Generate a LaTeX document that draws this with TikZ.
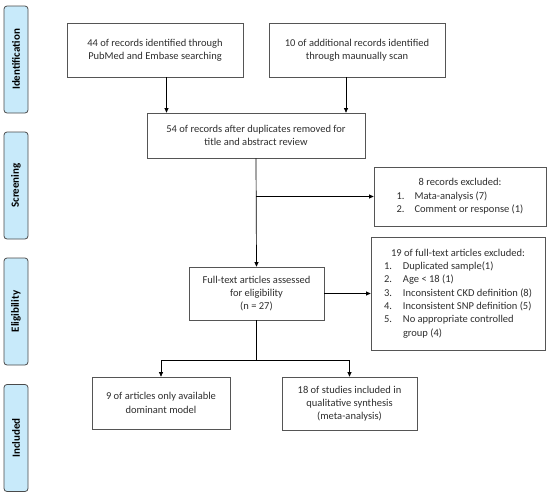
\documentclass[tikz,border=0pt]{standalone}
\usepackage{fontspec}
\setmainfont{Carlito}
\usetikzlibrary{arrows.meta}
\definecolor{sidefill}{HTML}{C8EAFA}
\definecolor{sideline}{HTML}{4A4A4A}
\definecolor{boxline}{HTML}{555555}
\definecolor{txt}{HTML}{2E2E2E}
\tikzset{
  stagebox/.style={draw=sideline, fill=sidefill, rounded corners=3pt, line width=0.8pt,
    minimum width=107pt, minimum height=24pt, rotate=90, inner sep=0pt,
    font=\fontsize{11}{12}\selectfont\bfseries, text=black},
  flowbox/.style={draw=boxline, line width=0.7pt, align=center, inner sep=2pt,
    font=\fontsize{10.5}{13.3}\selectfont, text=txt},
  arr/.style={draw=black, line width=0.7pt, -{Triangle[length=4.5pt,width=4pt]}},
  ln/.style={draw=black, line width=0.7pt}
}
\begin{document}
\begin{tikzpicture}[x=1pt,y=-1pt]
\useasboundingbox (0,0) rectangle (550,496);
% stage labels
\node[stagebox] (s1) at (16,59.5) {Identification};
\node[stagebox] (s2) at (16,185.5) {Screening};
\node[stagebox] (s3) at (16,311.5) {Eligibility};
\node[stagebox] (s4) at (16,438) {Included};
% boxes
\node[flowbox, minimum width=176pt, minimum height=54pt] (b1) at (155,50)
  {44 of records identified through\\PubMed and Embase searching};
\node[flowbox, minimum width=176pt, minimum height=54pt] (b2) at (357,50)
  {10 of additional records identified\\through maunually scan};
\node[flowbox, minimum width=218pt, minimum height=45pt] (b3) at (256,135.5)
  {54 of records after duplicates removed for\\title and abstract review};
\node[flowbox, minimum width=172pt, minimum height=59pt] (b4) at (460,196.5)
  {\begin{tabular}{@{}p{12pt}@{\hspace{6pt}}l@{}}
   \multicolumn{2}{c}{8 records excluded:}\\
   1. & Mata-analysis (7)\\
   2. & Comment or response (1)\\
   \end{tabular}};
\node[flowbox, minimum width=174pt, minimum height=113pt] (b5) at (458,293.5)
  {\begin{tabular}{@{}p{13pt}@{\hspace{6pt}}l@{}}
   \multicolumn{2}{c}{19 of full-text articles excluded:}\\
   1. & Duplicated sample(1)\\
   2. & Age < 18 (1)\\
   3. & Inconsistent CKD definition (8)\\
   4. & Inconsistent SNP definition (5)\\
   5. & No appropriate controlled\\
      & group (4)\\
   \end{tabular}};
\node[flowbox, minimum width=135pt, minimum height=53pt] (ft) at (256.5,293.5)
  {Full-text articles assessed\\for eligibility\\(n = 27)};
\node[flowbox, minimum width=138pt, minimum height=52pt] (b6) at (161,403)
  {9 of articles only available\\dominant model};
\node[flowbox, minimum width=135pt, minimum height=53pt] (b7) at (349.5,403.5)
  {18 of studies included in\\qualitative synthesis\\(meta-analysis)};
% connectors
\coordinate (c1) at (166.5,0);
\coordinate (c2) at (346,0);
\coordinate (j) at (256.5,360);
\draw[arr] (b1.south -| c1) -- (b3.north -| c1);
\draw[arr] (b2.south -| c2) -- (b3.north -| c2);
\draw[arr] (b3.south) -- (ft.north);
\draw[arr] (b3.south |- b4.west) -- (b4.west);
\draw[arr] (ft.east) -- (b5.west);
\draw[ln] (ft.south) -- (j);
\draw[arr] (j) -| (b6.north);
\draw[arr] (j) -| (b7.north);
\end{tikzpicture}
\end{document}
